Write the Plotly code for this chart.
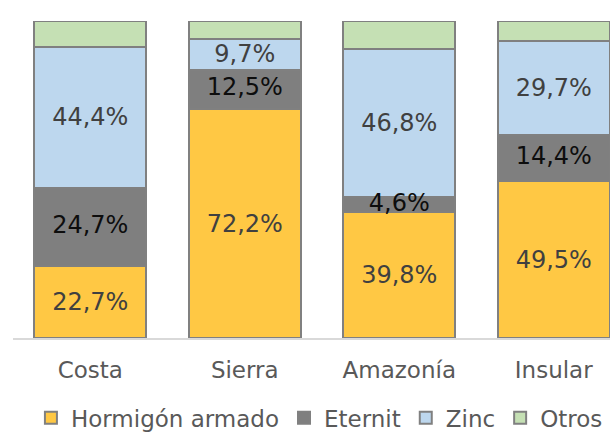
import plotly.graph_objects as go

regions = ["Costa", "Sierra", "Amazonía", "Insular"]
hormigon = [22.7, 72.2, 39.8, 49.5]
eternit = [24.7, 12.5, 4.6, 14.4]
zinc = [44.4, 9.7, 46.8, 29.7]
otros = [8.2, 5.6, 8.8, 6.4]

series = [
    ("Hormigón armado", hormigon, "#FFC844", "#404040", True),
    ("Eternit", eternit, "#7F7F7F", "#0D0D0D", False),  # labelled on top, see below
    ("Zinc", zinc, "#BDD7EE", "#404040", True),
    ("Otros", otros, "#C5E0B4", "#404040", False),
]

FONT = "DejaVu Sans"


def pct(v):
    return f"{v:.1f}%".replace(".", ",")


fig = go.Figure()
for name, vals, fill, txtcol, labelled in series:
    fig.add_trace(go.Bar(
        x=regions, y=vals, name=name,
        marker=dict(color=fill, line=dict(color="#808080", width=2)),
        text=[pct(v) for v in vals] if labelled else None,
        textposition="inside" if labelled else "none",
        insidetextanchor="middle",
        textfont=dict(family=FONT, size=24, color=txtcol),
        constraintext="none",
        hoverinfo="skip",
    ))

# Eternit labels drawn last so the thin Amazonía slice label is not covered by Zinc
fig.add_trace(go.Scatter(
    x=regions, y=[h + e / 2 for h, e in zip(hormigon, eternit)],
    mode="text", text=[pct(v) for v in eternit],
    textfont=dict(family=FONT, size=24, color="#0D0D0D"),
    showlegend=False, hoverinfo="skip", cliponaxis=False,
))

# bottom of the (cropped) chart title
fig.add_annotation(
    text="<b>y</b>", xref="paper", yref="paper", x=0.571, y=1,
    xanchor="center", yanchor="bottom", yshift=19, showarrow=False,
    font=dict(family=FONT, size=20, color="#404040"),
)

# the reference is a crop of a wider/taller chart: draw it a bit larger than
# the window and let the page clip it (body margin removed, no scrollbars)
fig.update_layout(
    width=640, height=452,
    margin=dict(l=13, r=9, t=21, b=114),
    barmode="stack", bargap=0.275,
    plot_bgcolor="white", paper_bgcolor="white",
    uniformtext=dict(minsize=24, mode="show"),
    showlegend=True,
    legend=dict(
        orientation="h", x=0.029, xanchor="left", y=-0.252, yanchor="middle",
        font=dict(family=FONT, size=23, color="#595959"),
        traceorder="normal", itemclick=False,
    ),
    xaxis=dict(
        range=[-0.5, 3.5], showline=True, linecolor="#D9D9D9", linewidth=1.5,
        ticks="", ticklabelstandoff=11,
        tickfont=dict(family=FONT, size=23, color="#595959"),
        showgrid=False, zeroline=False,
    ),
    yaxis=dict(range=[0, 100], visible=False, showgrid=False),
)

fig.write_html(
    "out.html",
    config=dict(displayModeBar=False),
    post_script="document.body.style.margin='0';document.body.style.overflow='hidden';",
)
